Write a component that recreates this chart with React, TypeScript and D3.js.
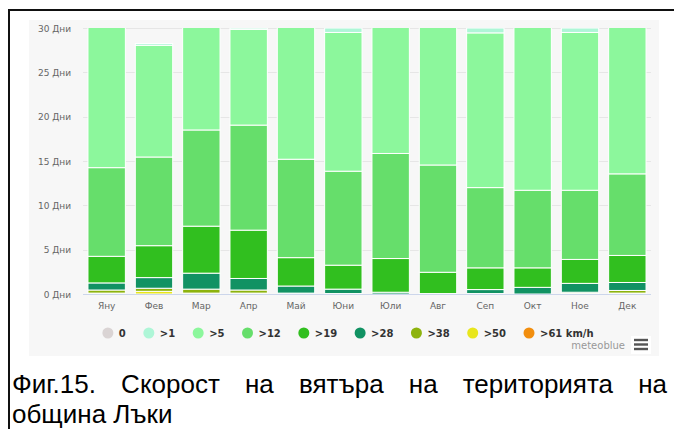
import React, { useEffect, useRef } from 'react';
import * as d3 from 'd3';

// months and wind speed classes (km/h), stacked bottom -> top
const months = ['Яну', 'Фев', 'Мар', 'Апр', 'Май', 'Юни', 'Юли', 'Авг', 'Сеп', 'Окт', 'Ное', 'Дек'];
const classes = ['>61', '>50', '>38', '>28', '>19', '>12', '>5', '>1', '0'];
const legendKeys = ['0', '>1', '>5', '>12', '>19', '>28', '>38', '>50', '>61'];
const legendLabels = ['0', '>1', '>5', '>12', '>19', '>28', '>38', '>50', '>61 km/h'];
const yTicks = [0, 5, 10, 15, 20, 25, 30];

// days per month in each class
const over61 = [0, 0, 0, 0, 0, 0, 0, 0, 0, 0, 0, 0];
const over50 = [0.1, 0.3, 0.1, 0.1, 0, 0, 0, 0, 0, 0, 0.05, 0.1];
const over38 = [0.35, 0.35, 0.45, 0.35, 0.1, 0.05, 0, 0, 0.05, 0, 0.15, 0.3];
const over28 = [0.8, 1.2, 1.8, 1.3, 0.8, 0.5, 0.2, 0.05, 0.45, 0.75, 1.0, 0.9];
const over19 = [3.0, 3.6, 5.3, 5.45, 3.2, 2.7, 3.8, 2.4, 2.45, 2.2, 2.7, 3.05];
const over12 = [10.0, 10.0, 10.85, 11.85, 11.1, 10.6, 11.85, 12.1, 9.05, 8.75, 7.8, 9.2];
const over5 = [16.45, 12.6, 12.2, 10.8, 15.5, 15.65, 14.85, 16.15, 17.45, 18.9, 17.8, 17.1];
const over1 = [0.3, 0.2, 0.3, 0.15, 0.3, 0.5, 0.3, 0.3, 0.55, 0.4, 0.5, 0.35];
const calm = [0, 0, 0, 0, 0, 0, 0, 0, 0, 0, 0, 0];

const colors: Record<string, string> = {
  '0': '#dad4d4',
  '>1': '#aef6d7',
  '>5': '#8cf79c',
  '>12': '#66de6b',
  '>19': '#31bf1f',
  '>28': '#119263',
  '>38': '#8db30d',
  '>50': '#e8e61c',
  '>61': '#f28e0e',
};

const seriesData: Record<string, number[]> = {
  '>61': over61, '>50': over50, '>38': over38, '>28': over28, '>19': over19,
  '>12': over12, '>5': over5, '>1': over1, '0': calm,
};

const App: React.FC = () => {
  const svgRef = useRef<SVGSVGElement | null>(null);

  useEffect(() => {
    const svg = d3.select(svgRef.current);
    svg.selectAll('*').remove();
    const font = '"DejaVu Sans", sans-serif';

    // frame of the scanned figure
    svg.append('rect').attr('x', 8).attr('y', 9).attr('width', 2).attr('height', 420).attr('fill', '#111');
    svg.append('rect').attr('x', 8).attr('y', 9).attr('width', 666).attr('height', 2).attr('fill', '#111');

    // chart panel
    svg.append('rect').attr('x', 29).attr('y', 20).attr('width', 630).attr('height', 336).attr('fill', '#f7f7f7');

    const x = d3.scaleBand<string>().domain(months).range([83, 651]).paddingInner(0.21).paddingOuter(0.105);
    const y = d3.scaleLinear().domain([0, 30]).range([294, 28]);

    // grid + y labels
    const grid = svg.append('g');
    yTicks.forEach((t) => {
      if (t > 0) {
        grid.append('line')
          .attr('x1', 83).attr('x2', 651)
          .attr('y1', Math.round(y(t)) + 0.5).attr('y2', Math.round(y(t)) + 0.5)
          .attr('stroke', '#e6e6e6');
      }
      grid.append('text')
        .attr('x', 71).attr('y', y(t) + 3.5)
        .attr('text-anchor', 'end')
        .attr('font-family', font).attr('font-size', 9).attr('fill', '#666')
        .text(`${t} Дни`);
    });

    // stacked bars
    const rows = months.map((m, i) => {
      const r: Record<string, any> = { month: m };
      classes.forEach((c) => { r[c] = seriesData[c][i]; });
      return r;
    });
    const stack = d3.stack<Record<string, any>>().keys(classes);
    const layers = stack(rows);

    svg.append('clipPath').attr('id', 'plotClip')
      .append('rect').attr('x', 83).attr('y', 28).attr('width', 568).attr('height', 266);

    const bars = svg.append('g').attr('clip-path', 'url(#plotClip)');
    layers.forEach((layer) => {
      bars.append('g')
        .selectAll('rect')
        .data(layer.filter((d) => d[1] - d[0] > 0))
        .join('rect')
        .attr('x', (d) => x(d.data.month as string)!)
        .attr('width', x.bandwidth())
        .attr('y', (d) => y(d[1]))
        .attr('height', (d) => y(d[0]) - y(d[1]))
        .attr('fill', colors[layer.key])
        .attr('stroke', '#fff')
        .attr('stroke-width', 1);
    });

    // x axis
    svg.append('line')
      .attr('x1', 83).attr('x2', 651).attr('y1', 294.5).attr('y2', 294.5)
      .attr('stroke', '#ccd6eb');
    svg.append('g').selectAll('text')
      .data(months)
      .join('text')
      .attr('x', (d) => x(d)! + x.bandwidth() / 2)
      .attr('y', 309)
      .attr('text-anchor', 'middle')
      .attr('font-family', font).attr('font-size', 9).attr('fill', '#666')
      .text((d) => d);

    // legend
    const legend = svg.append('g');
    let cx = 0;
    const items: { g: any; w: number }[] = [];
    legendKeys.forEach((k, i) => {
      const g = legend.append('g');
      g.append('circle').attr('cx', 0).attr('cy', 0).attr('r', 5.5).attr('fill', colors[k]);
      const t = g.append('text')
        .attr('x', 11).attr('y', 3.5)
        .attr('font-family', font).attr('font-size', 10).attr('font-weight', 'bold').attr('fill', '#333')
        .text(legendLabels[i]);
      const w = (t.node() as SVGTextElement).getComputedTextLength();
      items.push({ g, w });
    });
    items.forEach((it) => {
      it.g.attr('transform', `translate(${cx},0)`);
      cx += 11 + it.w + 23;
    });
    const totalW = cx - 23 + 5.5;
    legend.attr('transform', `translate(${348 - totalW / 2 + 5.5},333)`);

    // credits
    svg.append('text')
      .attr('x', 625).attr('y', 349)
      .attr('text-anchor', 'end')
      .attr('font-family', font).attr('font-size', 10).attr('fill', '#999')
      .text('meteoblue');
    svg.append('rect').attr('x', 631).attr('y', 336).attr('width', 20).attr('height', 18).attr('fill', '#fff');
    [340, 344.5, 349].forEach((yy) => {
      svg.append('rect').attr('x', 634).attr('y', yy - 1.2).attr('width', 14).attr('height', 2.4).attr('fill', '#555');
    });

    // caption (justified first line)
    const capFont = '"Liberation Sans", Arial, sans-serif';
    const capSize = 26;
    const cap = svg.append('g');
    const words = ['Фиг.15.', 'Скорост', 'на', 'вятъра', 'на', 'територията', 'на'];
    const widths = words.map((w) => {
      const t = cap.append('text').attr('font-family', capFont).attr('font-size', capSize).attr('fill', '#000')
        .attr('y', 393).text(w);
      return { t, w: (t.node() as SVGTextElement).getComputedTextLength() };
    });
    const left = 12;
    const right = 667;
    const sum = d3.sum(widths, (d) => d.w);
    const gap = (right - left - sum) / (words.length - 1);
    let px = left;
    widths.forEach((d) => {
      d.t.attr('x', px);
      px += d.w + gap;
    });
    cap.append('text').attr('font-family', capFont).attr('font-size', capSize).attr('fill', '#000')
      .attr('x', left).attr('y', 423).text('община Лъки');
  }, []);

  return (
    <svg
      ref={svgRef}
      width={674}
      height={429}
      style={{ position: 'absolute', left: 0, top: 0, display: 'block', background: '#fff' }}
    />
  );
};

export default App;
